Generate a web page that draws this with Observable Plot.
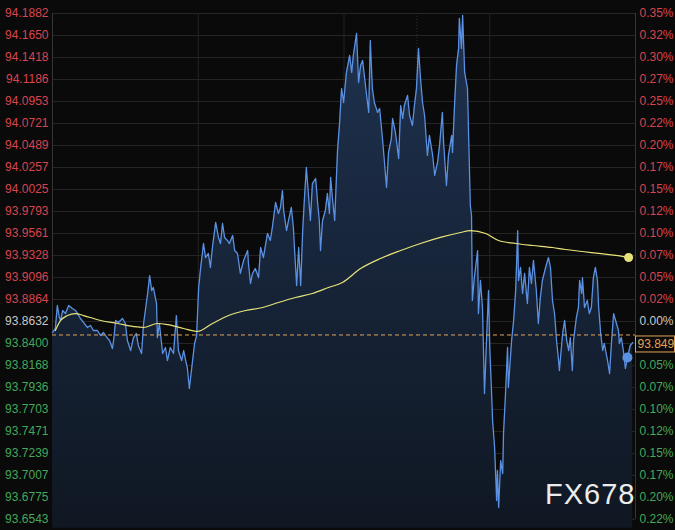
<!DOCTYPE html>
<html>
<head>
<meta charset="utf-8">
<script src="https://cdn.jsdelivr.net/npm/d3@7"></script>
<script src="https://cdn.jsdelivr.net/npm/@observablehq/plot@0.6"></script>
<style>
  html, body { margin: 0; padding: 0; background: #0a0a0a; }
  #chart { width: 675px; height: 530px; }
</style>
</head>
<body>
<div id="chart"></div>
<script>
// [minute of session, price]
const priceSeries = [
  [0,93.8516],[7,93.8558],[12,93.8801],[17,93.8674],[20,93.8643],[25,93.8748],[32,93.8716],[40,93.8801],
  [49,93.8769],[57,93.8748],[62,93.8716],[69,93.8664],[77,93.8621],[86,93.8569],[94,93.8590],[101,93.8537],
  [111,93.8537],[119,93.8484],[126,93.8516],[136,93.8453],[141,93.8432],[148,93.8347],[151,93.8432],[156,93.8643],
  [163,93.8621],[173,93.8664],[180,93.8611],[185,93.8432],[193,93.8326],[200,93.8463],[207,93.8505],[212,93.8379],
  [220,93.8294],[225,93.8611],[235,93.8928],[240,93.9117],[245,93.8959],[249,93.8991],[257,93.8822],[259,93.8463],
  [264,93.8611],[272,93.8294],[279,93.8358],[284,93.8220],[291,93.8358],[299,93.8294],[306,93.8695],[311,93.8326],
  [319,93.8220],[324,93.8326],[329,93.8220],[333,93.8147],[338,93.7925],[346,93.8220],[351,93.8400],[356,93.8484],
  [361,93.8991],[366,93.9202],[373,93.9455],[378,93.9307],[385,93.9350],[390,93.9202],[395,93.9413],[403,93.9677],
  [410,93.9519],[415,93.9455],[420,93.9666],[425,93.9519],[432,93.9487],[437,93.9455],[445,93.9540],[450,93.9381],
  [457,93.9350],[464,93.9139],[472,93.9276],[482,93.9381],[484,93.9244],[489,93.9033],[494,93.9139],[501,93.9191],
  [509,93.9096],[514,93.9413],[521,93.9307],[531,93.9561],[538,93.9487],[543,93.9624],[551,93.9888],[558,93.9772],
  [563,93.9835],[568,94.0014],[571,93.9803],[578,93.9592],[583,93.9698],[590,93.9835],[595,93.9624],[598,93.9381],
  [603,93.9012],[608,93.9413],[613,93.9012],[618,93.9592],[622,93.9909],[627,94.0257],[632,93.9983],[637,93.9698],
  [642,94.0088],[650,94.0141],[655,93.9877],[659,93.9698],[662,93.9381],[667,93.9698],[674,93.9803],[679,93.9983],
  [684,93.9772],[687,94.0152],[692,93.9909],[697,93.9698],[704,94.0437],[709,94.0722],[714,94.1091],[719,94.0943],
  [726,94.1260],[734,94.1439],[739,94.1260],[743,94.1439],[751,94.1671],[756,94.1154],[761,94.1334],[766,94.1386],
  [773,94.1123],[781,94.0838],[785,94.1597],[790,94.1091],[795,94.0943],[803,94.0838],[808,94.0880],[815,94.0563],
  [820,94.0310],[825,94.0046],[830,94.0416],[837,94.0563],[840,94.0774],[847,94.0627],[855,94.0352],[860,94.0911],
  [865,94.0774],[869,94.0911],[877,94.1017],[882,94.0806],[889,94.0700],[894,94.0911],[899,94.1091],[904,94.1513],
  [909,94.1196],[914,94.0943],[919,94.0806],[926,94.0384],[931,94.0595],[939,94.0384],[944,94.0173],[951,94.0310],
  [956,94.0489],[963,94.0838],[966,94.0521],[973,94.0067],[978,94.0384],[986,94.0595],[988,94.0416],[993,94.0911],
  [998,94.1334],[1003,94.1513],[1005,94.1830],[1010,94.1513],[1013,94.1861],[1018,94.1260],[1025,94.1091],[1028,94.0563],
  [1032,93.9856],[1035,93.9751],[1037,93.8854],[1042,93.9096],[1050,93.9381],[1052,93.8716],[1057,93.9065],[1062,93.8780],
  [1067,93.7872],[1072,93.8432],[1077,93.8959],[1080,93.8358],[1084,93.7936],[1087,93.7587],[1092,93.7302],[1097,93.6743],
  [1099,93.7060],[1102,93.6669],[1107,93.7165],[1112,93.7028],[1114,93.7450],[1119,93.7872],[1124,93.8358],[1126,93.7936],
  [1134,93.8432],[1139,93.8643],[1144,93.8959],[1149,93.9592],[1151,93.9065],[1156,93.9202],[1161,93.8928],[1166,93.9139],
  [1173,93.8822],[1178,93.9202],[1183,93.9033],[1188,93.9276],[1195,93.8959],[1200,93.8611],[1205,93.8885],[1210,93.9065],
  [1218,93.9202],[1225,93.9307],[1230,93.9202],[1235,93.8854],[1240,93.8716],[1245,93.8432],[1250,93.8220],[1252,93.8115],
  [1260,93.8505],[1265,93.8643],[1270,93.8432],[1275,93.8326],[1279,93.8463],[1284,93.8115],[1287,93.8432],[1294,93.8674],
  [1299,93.8780],[1302,93.9065],[1307,93.8928],[1309,93.9096],[1314,93.8780],[1321,93.8854],[1326,93.8716],[1331,93.8780],
  [1336,93.9096],[1341,93.9202],[1346,93.9065],[1349,93.8780],[1354,93.8505],[1359,93.8326],[1363,93.8400],[1371,93.8220],
  [1376,93.8083],[1381,93.8432],[1386,93.8716],[1393,93.8611],[1398,93.8537],[1400,93.8400],[1405,93.8463],[1410,93.8326],
  [1415,93.8136],[1420,93.8252],[1427,93.8379],[1433,93.8410]
];

// moving average [minute, value]
const averageSeries = [
  [7,93.8537],[20,93.8643],[37,93.8695],[57,93.8716],[77,93.8695],[119,93.8643],[161,93.8611],[200,93.8579],
  [225,93.8569],[259,93.8611],[284,93.8600],[324,93.8558],[358,93.8527],[395,93.8611],[435,93.8695],[477,93.8748],
  [519,93.8780],[558,93.8833],[600,93.8885],[642,93.8928],[682,93.8991],[716,93.9044],[761,93.9191],[810,93.9297],
  [860,93.9381],[909,93.9455],[958,93.9519],[1008,93.9571],[1032,93.9592],[1070,93.9561],[1102,93.9487],[1144,93.9455],
  [1186,93.9434],[1235,93.9413],[1267,93.9392],[1309,93.9371],[1349,93.9350],[1391,93.9329],[1423,93.9307]
];

const leftTickLabels = [
  "94.1882","94.1650","94.1418","94.1186","94.0953","94.0721","94.0489","94.0257","94.0025","93.9793",
  "93.9561","93.9328","93.9096","93.8864","93.8632","93.8400","93.8168","93.7936","93.7703","93.7471",
  "93.7239","93.7007","93.6775","93.6543"
];
const rightTickLabels = [
  "0.35%","0.32%","0.30%","0.27%","0.25%","0.22%","0.20%","0.17%","0.15%","0.12%",
  "0.10%","0.07%","0.05%","0.02%","0.00%","0.02%","0.05%","0.07%","0.10%","0.12%",
  "0.15%","0.17%","0.20%","0.22%"
];
const previousClose = 93.8632;
const markerPrice = 93.849;
const markerLabel = "93.849";
const currentDotMinute = 1420;
const sessionMinutes = [0, 1440];
const sessionDividers = [360, 720, 1080];
const dottedDividers = [900];
const areaFloor = 93.645;
const watermark = "FX678";

const RED = "#d9444f", GREEN = "#43a85a", WHITE = "#c9c9c9";
const BLUE = "#5b91e3", YELLOW = "#e8e27a", ORANGE = "#e3a357";
const FONT = "'Liberation Sans', Arial, sans-serif";

const prices = priceSeries.map(([t, p]) => ({t, p}));
const average = averageSeries.map(([t, v]) => ({t, v}));
const ticks = leftTickLabels.map((s, i) => ({v: +s, left: s, right: rightTickLabels[i]}));
const tickColor = d => Math.abs(d.v - previousClose) < 1e-6 ? WHITE : (d.v > previousClose ? RED : GREEN);
const dotPoint = prices.filter(d => d.t === currentDotMinute);
const lastAvg = [average[average.length - 1]];
// the right-hand label that sits under the price marker box is covered by it
const rightTicks = ticks.filter(d => !(d.v < markerPrice && markerPrice - d.v < 0.02));

const plot = Plot.plot({
  width: 675,
  height: 530,
  marginTop: 13,
  marginBottom: 11,
  marginLeft: 52,
  marginRight: 40,
  style: {background: "#0a0a0a", fontFamily: FONT},
  x: {type: "linear", domain: sessionMinutes, axis: null},
  y: {domain: [+leftTickLabels[leftTickLabels.length - 1], +leftTickLabels[0]], axis: null},
  marks: [
    Plot.ruleY(ticks, {y: "v", stroke: "#262626", strokeWidth: 1}),
    Plot.ruleX(sessionDividers, {stroke: "#232323", strokeWidth: 1}),
    Plot.ruleX(dottedDividers, {stroke: "#2e2e2e", strokeWidth: 1, strokeDasharray: "1,2"}),
    Plot.ruleX(sessionMinutes, {stroke: "#353535", strokeWidth: 1}),
    Plot.areaY(prices, {x: "t", y1: () => areaFloor, y2: "p", fill: "url(#areaGrad)", curve: "linear"}),
    Plot.line(prices, {x: "t", y: "p", stroke: BLUE, strokeWidth: 1.3}),
    Plot.line(average, {x: "t", y: "v", stroke: YELLOW, strokeWidth: 1.2, curve: "monotone-x"}),
    Plot.ruleY([markerPrice], {stroke: ORANGE, strokeWidth: 1, strokeDasharray: "4,3"}),
    Plot.dot(lastAvg, {x: "t", y: "v", r: 4.5, fill: YELLOW, stroke: null}),
    Plot.dot(dotPoint, {x: "t", y: "p", r: 5, fill: BLUE, stroke: null}),
    Plot.text(ticks, {y: "v", text: "left", frameAnchor: "left", textAnchor: "end", dx: -4, fill: tickColor, fontSize: 12}),
    Plot.text(rightTicks, {y: "v", text: "right", frameAnchor: "right", textAnchor: "start", dx: 4, fill: tickColor, fontSize: 12})
  ]
});

const svg = d3.select(plot);
const defs = svg.insert("defs", ":first-child");
const grad = defs.append("linearGradient")
  .attr("id", "areaGrad").attr("gradientUnits", "userSpaceOnUse")
  .attr("x1", 0).attr("x2", 0).attr("y1", 13).attr("y2", 530);
grad.append("stop").attr("offset", "0%").attr("stop-color", "#1f3250");
grad.append("stop").attr("offset", "100%").attr("stop-color", "#0f1722");

// price marker box on the right axis
const ys = plot.scale("y");
const yPix = ys.apply(markerPrice);
const g = svg.append("g");
g.append("rect")
  .attr("x", 635.5).attr("y", yPix + 1.5).attr("width", 39).attr("height", 16)
  .attr("fill", "#0a0a0a").attr("stroke", ORANGE).attr("stroke-width", 1);
g.append("text")
  .attr("x", 637.5).attr("y", yPix + 9.5).attr("dy", "0.35em")
  .attr("text-anchor", "start")
  .attr("fill", ORANGE).attr("font-size", 12)
  .attr("font-family", FONT)
  .text(markerLabel);

// watermark
svg.append("text")
  .attr("x", 545).attr("y", 504)
  .attr("text-anchor", "start")
  .attr("fill", "#ececec").attr("font-size", 29).attr("letter-spacing", 1)
  .attr("font-family", FONT)
  .text(watermark);

document.getElementById("chart").appendChild(plot);
</script>
</body>
</html>
